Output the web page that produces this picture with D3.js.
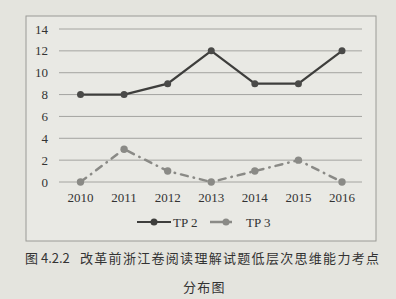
<!DOCTYPE html>
<html><head>
<meta charset="utf-8">
<script src="https://cdn.jsdelivr.net/npm/d3@7/dist/d3.min.js"></script>
<style>
  body { margin: 0; background: #e4e4de; }
  svg { display: block; }
  text.tick { font-family: "Liberation Serif", serif; font-size: 13px; fill: #333; }
  text.cap { font-family: "Noto Sans CJK SC", sans-serif; font-size: 13px; fill: #333; }
</style>
</head>
<body>
<svg id="chart" width="396" height="299"></svg>
<script>
// data
const years = ["2010", "2011", "2012", "2013", "2014", "2015", "2016"];
const tp2 = [8, 8, 9, 12, 9, 9, 12];
const tp3 = [0, 3, 1, 0, 1, 2, 0];
const yTicks = [0, 2, 4, 6, 8, 10, 12, 14];
const seriesNames = ["TP 2", "TP 3"];

const svg = d3.select("#chart");

// frame
svg.append("rect")
   .attr("x", 26).attr("y", 16).attr("width", 350).attr("height", 225)
   .attr("fill", "#e9e9e4").attr("stroke", "#9a9a96").attr("stroke-width", 1);

const x = d3.scalePoint().domain(years).range([80.5, 342]);
const y = d3.scaleLinear().domain([0, 14]).range([182, 29]);

// gridlines
svg.selectAll("line.grid").data(yTicks)
   .join("line")
   .attr("class", "grid")
   .attr("x1", 59).attr("x2", 362)
   .attr("y1", d => y(d)).attr("y2", d => y(d))
   .attr("stroke", "#a4a4a0").attr("stroke-width", 1);

svg.selectAll("text.ylab").data(yTicks)
   .join("text")
   .attr("class", "tick ylab")
   .attr("x", 48).attr("y", d => y(d) + 4.5)
   .attr("text-anchor", "end")
   .text(d => d);

svg.selectAll("text.xlab").data(years)
   .join("text")
   .attr("class", "tick xlab")
   .attr("x", d => x(d)).attr("y", 202)
   .attr("text-anchor", "middle")
   .text(d => d);

const line = d3.line().x((d, i) => x(years[i])).y(d => y(d));

// TP 3 (dash-dot, grey)
svg.append("path").datum(tp3)
   .attr("d", line)
   .attr("fill", "none").attr("stroke", "#8a8a86").attr("stroke-width", 2.5)
   .attr("stroke-linecap", "round")
   .attr("stroke-dasharray", "7,6,0.5,6");
svg.selectAll("circle.tp3").data(tp3)
   .join("circle")
   .attr("class", "tp3")
   .attr("cx", (d, i) => x(years[i])).attr("cy", d => y(d))
   .attr("r", 3.7).attr("fill", "#8a8a86");

// TP 2 (solid, dark)
svg.append("path").datum(tp2)
   .attr("d", line)
   .attr("fill", "none").attr("stroke", "#3e3e3c").attr("stroke-width", 2.2);
svg.selectAll("circle.tp2").data(tp2)
   .join("circle")
   .attr("class", "tp2")
   .attr("cx", (d, i) => x(years[i])).attr("cy", d => y(d))
   .attr("r", 3.5).attr("fill", "#4a4a48");

// legend
const lg = [
  {name: seriesNames[0], x1: 137, x2: 171, cx: 154, tx: 173, color: "#3e3e3c", w: 2.2},
  {name: seriesNames[1], x1: 210, x2: 232, cx: 226, tx: 246, color: "#8a8a86", w: 2.5}
];
lg.forEach(d => {
  svg.append("line")
     .attr("x1", d.x1).attr("x2", d.x2).attr("y1", 222).attr("y2", 222)
     .attr("stroke", d.color).attr("stroke-width", d.w);
  svg.append("circle").attr("cx", d.cx).attr("cy", 222).attr("r", 3.5).attr("fill", d.color);
  svg.append("text").attr("class", "tick").attr("x", d.tx).attr("y", 226.5).text(d.name);
});

// caption
svg.append("text").attr("class", "cap")
   .attr("x", 25).attr("y", 263)
   .text("图 4.2.2");
svg.append("text").attr("class", "cap")
   .attr("x", 80).attr("y", 263)
   .attr("letter-spacing", "1.3px")
   .text("改革前浙江卷阅读理解试题低层次思维能力考点");
svg.append("text").attr("class", "cap")
   .attr("x", 183).attr("y", 292)
   .attr("letter-spacing", "1.3px")
   .text("分布图");
</script>
</body>
</html>
